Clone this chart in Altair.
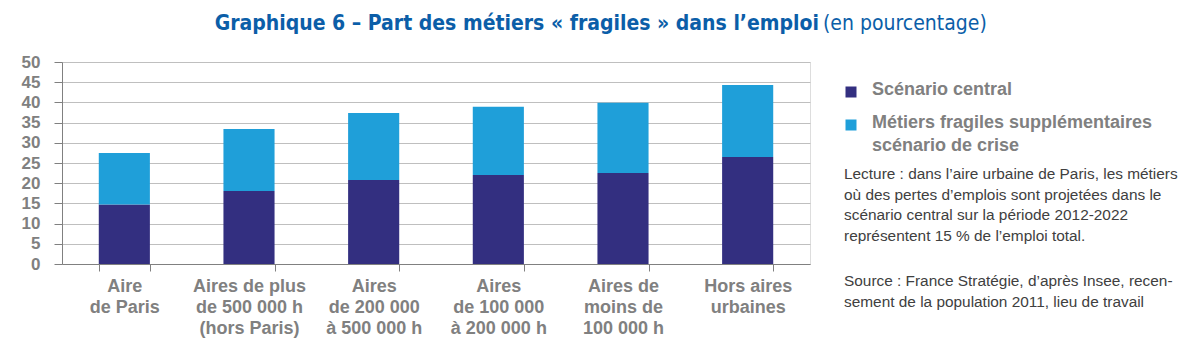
import altair as alt
import pandas as pd

categories = ["Aire|de Paris", "Aires de plus|de 500 000 h|(hors Paris)", "Aires|de 200 000|à 500 000 h",
              "Aires|de 100 000|à 200 000 h", "Aires de|moins de|100 000 h", "Hors aires|urbaines"]
central = [14.7, 18.1, 20.8, 22.0, 22.5, 26.5]
extra = [12.8, 15.3, 16.6, 16.9, 17.4, 17.8]
series = ["Scénario central", "Métiers fragiles supplémentaires scénario de crise"]
colors = ["#332F80", "#1F9FD9"]
y_ticks = list(range(0, 55, 5))

rows = []
for c, a, b in zip(categories, central, extra):
    rows.append({"cat": c, "serie": series[0], "val": a, "ord": 0})
    rows.append({"cat": c, "serie": series[1], "val": b, "ord": 1})
df = pd.DataFrame(rows)

FONT = "Liberation Sans"
TFONT = "'DejaVu Sans Condensed', 'Roboto Condensed', 'Liberation Sans Narrow', Roboto"
GRAY = "#808080"
W, H = 748, 202

bars = alt.Chart(df).mark_bar().encode(
    x=alt.X("cat:N", sort=categories, title=None,
            scale=alt.Scale(paddingInner=0.59, paddingOuter=0.295),
            axis=alt.Axis(labelExpr="split(datum.label, '|')", labelAngle=0, labelFont=FONT,
                          labelFontSize=18, labelFontWeight="bold", labelColor=GRAY,
                          labelLineHeight=21, labelPadding=6, labelBaseline="top",
                          tickBand="extent", tickSize=7, tickColor=GRAY,
                          domainColor=GRAY, grid=False)),
    y=alt.Y("val:Q", stack="zero", title=None,
            scale=alt.Scale(domain=[0, 50], nice=False),
            axis=alt.Axis(values=y_ticks, labelFont=FONT, labelFontSize=17, labelFontWeight="bold",
                          labelColor=GRAY, tickSize=8, tickColor=GRAY, labelPadding=14,
                          domainColor=GRAY, gridColor="#BFBFBF", grid=True)),
    color=alt.Color("serie:N", scale=alt.Scale(domain=series, range=colors), legend=None),
    order=alt.Order("ord:Q"),
)

one = pd.DataFrame({"k": [0]})

title_bold = alt.Chart(one).mark_text(
    text="Graphique 6 – Part des métiers « fragiles » dans l’emploi", align="right", baseline="middle",
    font=TFONT, fontSize=21, fontWeight="bold", color="#0B5EA8"
).encode(x=alt.value(757), y=alt.value(-38))
title_norm = alt.Chart(one).mark_text(
    text="(en pourcentage)", align="left", baseline="middle",
    font=TFONT, fontSize=21, color="#0B5EA8"
).encode(x=alt.value(761), y=alt.value(-38))

sq1 = alt.Chart(one).mark_square(size=121, color=colors[0], opacity=1).encode(x=alt.value(789), y=alt.value(30))
sq2 = alt.Chart(one).mark_square(size=121, color=colors[1], opacity=1).encode(x=alt.value(789), y=alt.value(63))

leg1 = alt.Chart(one).mark_text(
    text="Scénario central", align="left", baseline="middle", font=FONT, fontSize=18,
    fontWeight="bold", color=GRAY
).encode(x=alt.value(810), y=alt.value(28))
leg2 = alt.Chart(one).mark_text(
    text="Métiers fragiles supplémentaires\nscénario de crise", lineBreak="\n", lineHeight=23,
    align="left", baseline="middle", font=FONT, fontSize=18, fontWeight="bold", color=GRAY
).encode(x=alt.value(810), y=alt.value(61))

note1 = alt.Chart(one).mark_text(
    text="Lecture : dans l’aire urbaine de Paris, les métiers\noù des pertes d’emplois sont projetées dans le\n"
         "scénario  central  sur  la  période  2012-2022\nreprésentent 15 % de l’emploi total.",
    lineBreak="\n", lineHeight=20.7, align="left", baseline="middle", font=FONT, fontSize=15.4,
    color="#404040"
).encode(x=alt.value(782), y=alt.value(112))
note2 = alt.Chart(one).mark_text(
    text="Source : France Stratégie, d’après Insee, recen-\nsement de la population 2011, lieu de travail",
    lineBreak="\n", lineHeight=21, align="left", baseline="middle", font=FONT, fontSize=15.4,
    color="#404040"
).encode(x=alt.value(782), y=alt.value(219))

chart = alt.layer(bars, title_bold, title_norm, sq1, sq2, leg1, leg2, note1, note2).properties(
    width=W, height=H,
    autosize=alt.AutoSizeParams(type="none"),
    padding={"left": 54, "top": 54, "right": 373, "bottom": 85},
).configure_view(stroke=None).configure(background="white")

chart.save("out.html", embed_options={"renderer": "svg", "actions": False})
